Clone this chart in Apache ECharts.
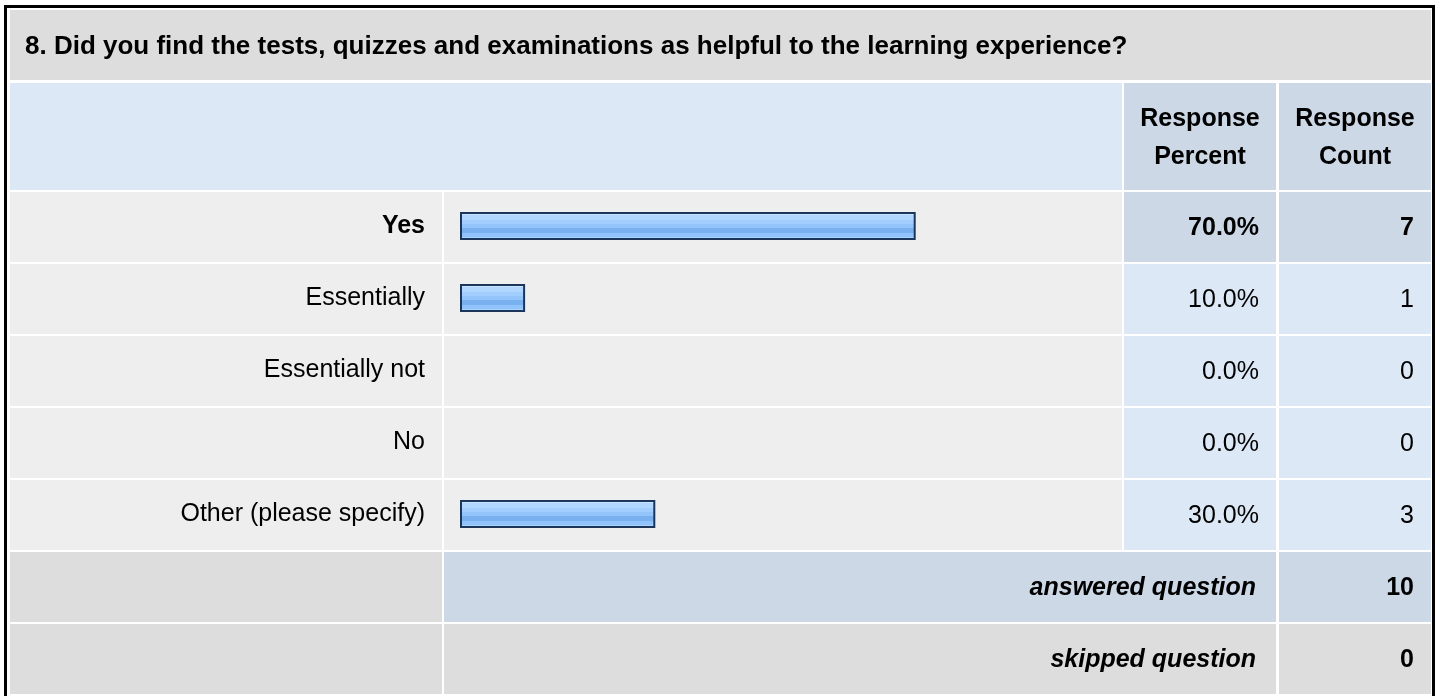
<!DOCTYPE html>
<html>
<head>
<meta charset="utf-8">
<script src="https://cdn.jsdelivr.net/npm/echarts@6/dist/echarts.min.js"></script>
<style>
html,body{margin:0;padding:0;background:#fff;}
#chart{width:1440px;height:696px;}
</style>
</head>
<body>
<div id="chart"></div>
<script>
// ---- data ----
const title = '8. Did you find the tests, quizzes and examinations as helpful to the learning experience?';
const categories = ['Yes', 'Essentially', 'Essentially not', 'No', 'Other (please specify)'];
const percents = [70.0, 10.0, 0.0, 0.0, 30.0];
const counts = [7, 1, 0, 0, 3];
const headerPercent = 'Response\nPercent';
const headerCount = 'Response\nCount';
const footerLabels = ['answered question', 'skipped question'];
const footerValues = [10, 0];

// ---- layout ----
const FONT = '"Liberation Sans", Arial, Helvetica, sans-serif';
const FS = 25;
const FS_TITLE = 26;
const L0 = 10, L1 = 442;     // label column
const B0 = 444, B1 = 1122;   // bar column
const P0 = 1124, P1 = 1276;  // percent column
const C0 = 1279, C1 = 1431;  // count column
const ROW_TOP = 190, PITCH = 72, ROW_H = 70;
const maxIdx = percents.indexOf(Math.max(...percents));

const chart = echarts.init(document.getElementById('chart'), null, {renderer: 'canvas'});

const els = [];
function rect(x0, y0, x1, y1, fill) {
  els.push({type: 'rect', z: 1, silent: true, shape: {x: x0, y: y0, width: x1 - x0, height: y1 - y0}, style: {fill: fill}});
}
function text(str, x, y, align, weight, style, extra) {
  els.push({type: 'text', z: 20, silent: true, x: x, y: y,
    style: Object.assign({text: str, fill: '#000', align: align, verticalAlign: 'middle',
      fontFamily: FONT, fontSize: FS, fontWeight: weight || 'normal', fontStyle: style || 'normal'}, extra || {})});
}

// title row
rect(L0, 10, C1, 80, '#dddddd');
text(title, 25, 47, 'left', 'bold', null, {fontSize: FS_TITLE});
// header row
rect(L0, 83, B1, 190, '#dce8f5');
rect(P0, 83, P1, 190, '#ccd8e6');
rect(C0, 83, C1, 190, '#ccd8e6');
text(headerPercent, (P0 + P1) / 2, 138, 'center', 'bold', null, {lineHeight: 38});
text(headerCount, (C0 + C1) / 2, 138, 'center', 'bold', null, {lineHeight: 38});
// data rows
categories.forEach((c, i) => {
  const y0 = ROW_TOP + 2 + i * PITCH, y1 = y0 + ROW_H, yc = (y0 + y1) / 2 + 1;
  const hi = i === maxIdx;
  rect(L0, y0, L1, y1, '#eeeeee');
  rect(B0, y0, B1, y1, '#eeeeee');
  rect(P0, y0, P1, y1, hi ? '#ccd8e6' : '#dce8f5');
  rect(C0, y0, C1, y1, hi ? '#ccd8e6' : '#dce8f5');
  text(percents[i].toFixed(1) + '%', 1259, yc, 'right', hi ? 'bold' : 'normal');
  text(String(counts[i]), 1414, yc, 'right', hi ? 'bold' : 'normal');
});
// footer rows
footerLabels.forEach((lab, j) => {
  const y0 = ROW_TOP + 2 + (categories.length + j) * PITCH, y1 = y0 + ROW_H, yc = (y0 + y1) / 2 + 1;
  const fill = j === 0 ? '#ccd8e6' : '#dddddd';
  rect(L0, y0, L1, y1, '#dddddd');
  rect(B0, y0, P1, y1, fill);
  rect(C0, y0, C1, y1, fill);
  text(lab, 1256, yc, 'right', 'bold', 'italic');
  text(String(footerValues[j]), 1414, yc, 'right', 'bold');
});
// outer frame
els.push({type: 'rect', z: 30, silent: true, shape: {x: 5.5, y: 6.5, width: 1428, height: 700},
  style: {fill: 'none', stroke: '#000', lineWidth: 3}});

const barGradient = {
  type: 'linear', x: 0, y: 0, x2: 0, y2: 1,
  colorStops: [
    {offset: 0.00, color: '#c9e5ff'}, {offset: 0.12, color: '#c9e5ff'},
    {offset: 0.12, color: '#b1d7ff'}, {offset: 0.28, color: '#b1d7ff'},
    {offset: 0.28, color: '#a2ceff'}, {offset: 0.43, color: '#a2ceff'},
    {offset: 0.43, color: '#93c5fb'}, {offset: 0.58, color: '#93c5fb'},
    {offset: 0.58, color: '#78b0f0'}, {offset: 0.74, color: '#78b0f0'},
    {offset: 0.74, color: '#90c3fb'}, {offset: 0.88, color: '#90c3fb'},
    {offset: 0.88, color: '#a8d4ff'}, {offset: 1.00, color: '#a8d4ff'}
  ]
};

// zero values get no visible mark (the reference draws nothing for 0%)
const barData = percents.map(v => v > 0 ? v : {value: v, itemStyle: {opacity: 0, borderWidth: 0}});

chart.setOption({
  animation: false,
  backgroundColor: '#ffffff',
  grid: {left: 460, top: ROW_TOP, width: 651, height: PITCH * categories.length, containLabel: false},
  xAxis: {type: 'value', min: 0, max: 100, show: false},
  yAxis: {
    type: 'category', data: categories, inverse: true, z: 20,
    axisLine: {show: false}, axisTick: {show: false}, splitLine: {show: false},
    axisLabel: {
      margin: 35, color: '#000', fontSize: FS, fontFamily: FONT,
      formatter: (v) => v === categories[maxIdx] ? '{b|' + v + '}' : v,
      rich: {b: {fontWeight: 'bold', fontSize: FS, fontFamily: FONT, color: '#000'}}
    }
  },
  series: [{
    type: 'bar', data: barData, barWidth: 28, z: 10,
    itemStyle: {color: barGradient, borderColor: '#1c355a', borderWidth: 2},
    emphasis: {disabled: true}
  }],
  graphic: {elements: els}
});
</script>
</body>
</html>
